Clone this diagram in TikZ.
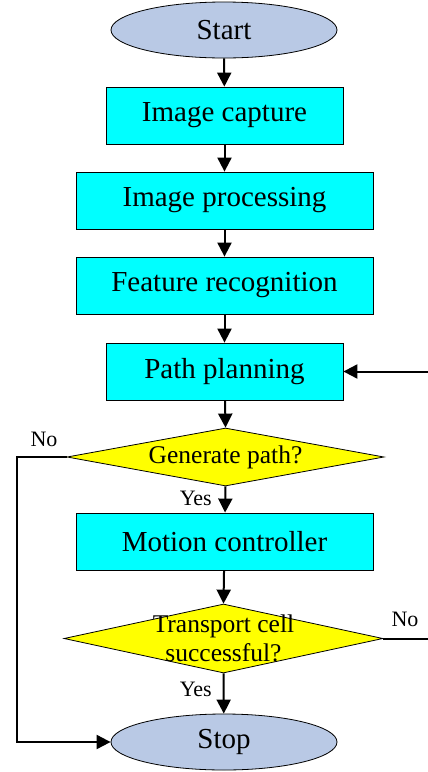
\documentclass[tikz,border=0pt]{standalone}
\usepackage{fontspec}
\setmainfont{Liberation Serif}
\usetikzlibrary{shapes.geometric,arrows.meta}
\definecolor{ellfill}{RGB}{185,201,229}
\definecolor{boxfill}{RGB}{0,255,255}
\definecolor{decfill}{RGB}{255,255,0}
\begin{document}
\begin{tikzpicture}[x=1pt,y=-1pt,
  box/.style={draw=black,line width=0.8pt,fill=boxfill,minimum width=297pt,minimum height=57pt,inner sep=0pt,font=\fontsize{29}{33}\selectfont},
  nbox/.style={box,minimum width=237pt},
  term/.style={ellipse,draw=black,line width=0.8pt,fill=ellfill,minimum width=226pt,minimum height=56pt,inner sep=0pt,font=\fontsize{29}{33}\selectfont},
  dec/.style={diamond,draw=black,line width=0.8pt,fill=decfill,aspect=5.5,inner sep=0pt},
  dtext/.style={font=\fontsize{25.5}{29}\selectfont,align=center},
  lab/.style={font=\fontsize{22}{25}\selectfont,inner sep=0pt},
  arr/.style={line width=2pt,-{Triangle[length=14pt,width=14pt]}},
  ln/.style={line width=2pt}]
\useasboundingbox (0,0) rectangle (428,772);
\node[term] (start) at (224,30) {Start};
\node[nbox] (cap) at (224.5,115.5) {Image capture};
\node[box] (proc) at (224.5,200.5) {Image processing};
\node[box] (feat) at (224.5,285.5) {Feature recognition};
\node[nbox] (path) at (224.5,371.5) {Path planning};
\node[dec,minimum width=317pt,minimum height=58pt,label={[dtext]center:Generate path?}] (d1) at (225.5,457) {};
\node[box] (mot) at (224.5,541.5) {Motion controller};
\node[dec,minimum width=319pt,minimum height=69pt,label={[dtext]center:Transport cell\\successful?}] (d2) at (223.5,638.5) {};
\node[term] (stop) at (224,742) {Stop};
\coordinate (rin) at (428,371.5);
\coordinate (lcorner) at (17,457);
\coordinate (rout) at (428,638.5);
\draw[arr] (start) -- (cap);
\draw[arr] (cap) -- (proc);
\draw[arr] (proc) -- (feat);
\draw[arr] (feat) -- (path);
\draw[arr] (rin) -- (path);
\draw[arr] (path) -- (d1.north);
\draw[arr] (d1.south) -- (mot);
\draw[arr] (mot) -- (d2.north);
\draw[arr] (d2.south) -- (stop);
\draw[arr] (d1.west) -- (lcorner) |- (stop.west);
\draw[ln] (d2.east) -- (rout);
\node[lab,anchor=east] (yes1) at (212,498) {Yes};
\node[lab,anchor=east] (yes2) at (212,689) {Yes};
\node[lab] (no1) at (44,439) {No};
\node[lab] (no2) at (405,619) {No};
\end{tikzpicture}
\end{document}
